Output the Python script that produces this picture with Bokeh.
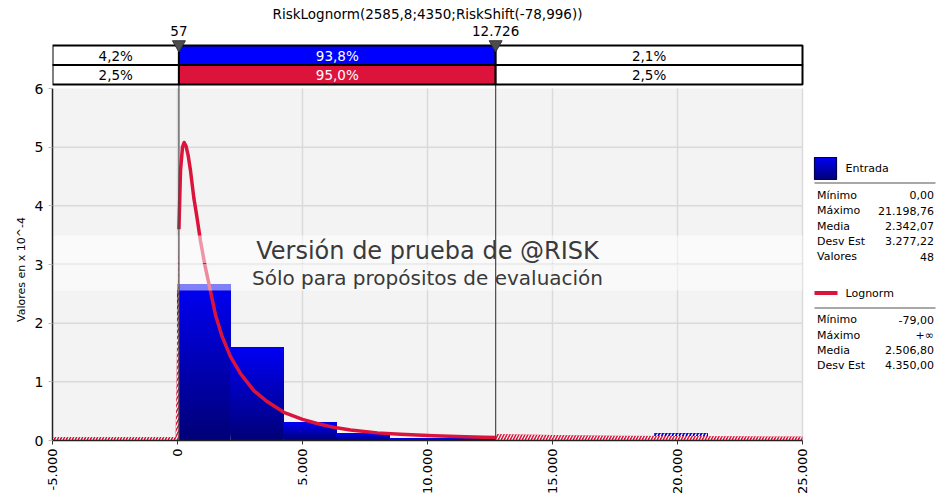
import math
import numpy as np
from bokeh.plotting import figure
from bokeh.models import Range1d, FixedTicker
from bokeh.core.properties import value
from bokeh.embed import file_html
from bokeh.resources import INLINE

FONT = "DejaVu Sans"

# ---------------- data ----------------
title_text = "RiskLognorm(2585,8;4350;RiskShift(-78,996))"
delim_values = [57, 12726]
delim_labels = ["57", "12.726"]
row1_pcts = ["4,2%", "93,8%", "2,1%"]
row2_pcts = ["2,5%", "95,0%", "2,5%"]

bin_left = [0, 2120, 4240, 6359, 8479, 10599, 12719, 14839, 16959, 19079]
bin_right = [2120, 4240, 6359, 8479, 10599, 12719, 14839, 16959, 19079, 21199]
bar_density = [2.66, 1.58, 0.31, 0.12, 0.03, 0.03, 0.03, 0.0, 0.0, 0.12]

curve_x = [-5000, -79, -40, 0, 57, 120, 200, 265, 340, 430, 520, 652, 780, 920,
           1100, 1253, 1520, 1787, 2120, 2520, 3053, 3600, 4253, 5000, 5587,
           6300, 6920, 8000, 8920, 10253, 11500, 12253, 12726, 15000, 17500,
           20000, 22500, 25000]
curve_y = [0.0, 0.0, 0.9, 2.3, 3.6, 4.6, 5.0, 5.08, 5.02, 4.85, 4.6, 4.14, 3.8,
           3.4, 2.98, 2.68, 2.14, 1.77, 1.43, 1.14, 0.85, 0.66, 0.48, 0.36,
           0.29, 0.22, 0.18, 0.13, 0.105, 0.08, 0.062, 0.055, 0.05, 0.032,
           0.022, 0.015, 0.011, 0.008]

x_ticks = [-5000, 0, 5000, 10000, 15000, 20000, 25000]
x_tick_labels = ["-5.000", "0", "5.000", "10.000", "15.000", "20.000", "25.000"]
y_ticks = [0, 1, 2, 3, 4, 5, 6]
y_label = "Valores en x 10^-4"

wm_line1 = "Versión de prueba de @RISK"
wm_line2 = "Sólo para propósitos de evaluación"

in_name = "Entrada"
in_stat_names = ["Mínimo", "Máximo", "Media", "Desv Est", "Valores"]
in_stat_vals = ["0,00", "21.198,76", "2.342,07", "3.277,22", "48"]
fit_name = "Lognorm"
fit_stat_names = ["Mínimo", "Máximo", "Media", "Desv Est"]
fit_stat_vals = ["-79,00", "+∞", "2.506,80", "4.350,00"]

# ---------------- layout (page pixels) ----------------
FIG_W, FIG_H = 941, 498
PL, PR, PT, PB = 52, 802, 88, 440
X_MIN, X_MAX, Y_MIN, Y_MAX = -5000, 25000, 0, 6
UX = (X_MAX - X_MIN) / (PR - PL)
UY = (Y_MAX - Y_MIN) / (PB - PT)


def X(px):
    return X_MIN + (px - PL) * UX


def Y(py):
    return Y_MIN + (PB - py) * UY


BLUE = "#0000ff"
RED = "#dc143c"


def grad(f):
    b = int(round(0x76 + (0xf4 - 0x76) * f))
    return "#0000%02x" % b


p = figure(width=FIG_W, height=FIG_H, output_backend="svg", toolbar_location=None,
           x_range=Range1d(X(PL), X(FIG_W)),
           y_range=Range1d(Y(PB), Y(0)),
           min_border_left=PL, min_border_right=0, min_border_top=0,
           min_border_bottom=FIG_H - PB)
p.outline_line_color = None
p.background_fill_color = "white"
p.border_fill_color = "white"
p.xgrid.grid_line_color = None
p.ygrid.grid_line_color = None

# axes
p.xaxis.ticker = FixedTicker(ticks=x_ticks)
p.xaxis.major_label_overrides = {t: l for t, l in zip(x_ticks, x_tick_labels)}
p.xaxis.major_label_orientation = math.pi / 2
p.xaxis.bounds = (X_MIN, X_MAX)
p.xaxis.minor_tick_line_color = None
p.xaxis.major_tick_in = 0
p.xaxis.major_tick_out = 4
p.xaxis.major_tick_line_color = "#333333"
p.xaxis.axis_line_color = "#222222"
p.xaxis.axis_line_width = 1.5
p.xaxis.major_label_standoff = 4
p.xaxis.major_label_text_font = FONT
p.xaxis.major_label_text_font_size = "13px"
p.xaxis.major_label_text_color = "black"

p.yaxis.ticker = FixedTicker(ticks=y_ticks)
p.yaxis.bounds = (Y_MIN, Y_MAX)
p.yaxis.minor_tick_line_color = None
p.yaxis.major_tick_in = 0
p.yaxis.major_tick_out = 4
p.yaxis.major_tick_line_color = "#bbbbbb"
p.yaxis.axis_line_color = "#222222"
p.yaxis.axis_line_width = 1.5
p.yaxis.major_label_standoff = 5
p.yaxis.major_label_text_font = FONT
p.yaxis.major_label_text_font_size = "14px"
p.yaxis.major_label_text_color = "black"
# the label is centred on the whole frame; trailing no-break spaces move the
# visible text down towards the centre of the 0..6 plot area
p.yaxis.axis_label = y_label + "\u00a0" * 28
p.yaxis.axis_label_text_font = FONT
p.yaxis.axis_label_text_font_size = "11px"
p.yaxis.axis_label_text_font_style = "normal"
p.yaxis.axis_label_text_color = "black"
p.yaxis.axis_label_standoff = 4

# plot background and grid
p.quad(left=[X_MIN], right=[X_MAX], bottom=[Y_MIN], top=[Y_MAX],
       fill_color="#f3f3f3", line_color=None)
gx = [t for t in x_ticks if t > X_MIN]
p.segment(x0=gx, y0=[Y_MIN] * len(gx), x1=gx, y1=[Y_MAX] * len(gx),
          line_color="#dadada", line_width=1.5)
gy = [t for t in y_ticks if Y_MIN < t < Y_MAX]
p.segment(x0=[X_MIN] * len(gy), y0=gy, x1=[X_MAX] * len(gy), y1=gy,
          line_color="#dadada", line_width=1.5)

# histogram bars with vertical gradient
N = 30
sl, sr, sb, st, sc = [], [], [], [], []
for l, r, h in zip(bin_left, bin_right, bar_density):
    if h <= 0:
        continue
    for k in range(N):
        sl.append(l); sr.append(r)
        sb.append(h * k / N); st.append(h)
        sc.append(grad((k + 0.5) / N))
p.quad(left=sl, right=sr, bottom=sb, top=st, fill_color=sc, line_color=None)
hl = [l for l, h in zip(bin_left, bar_density) if l >= delim_values[1] and h > 0]
hr = [r for l, r, h in zip(bin_left, bin_right, bar_density) if l >= delim_values[1] and h > 0]
hh = [h for l, h in zip(bin_left, bar_density) if l >= delim_values[1] and h > 0]
p.quad(left=hl, right=hr, bottom=[0] * len(hh), top=hh, fill_alpha=0,
       line_color=None, hatch_pattern="/", hatch_color="white",
       hatch_weight=1.5, hatch_scale=7)

# fitted curve
cx = np.array(curve_x, dtype=float)
cy = np.array(curve_y, dtype=float)
lo, hi = delim_values
band = 3.5 * UY
for m in (cx <= lo, cx >= hi):
    p.varea(x=cx[m], y1=np.zeros(m.sum()), y2=cy[m] + band, fill_color=RED,
            hatch_pattern="/", hatch_color="white", hatch_weight=1.2,
            hatch_scale=6)
m_in = (cx >= lo) & (cx <= hi)
p.line(cx[m_in], cy[m_in], line_color=RED, line_width=3.5, line_join="round")

# watermark
p.quad(left=[X_MIN, X_MIN], right=[X_MAX, X_MAX], bottom=[Y(262.5), Y(290)],
       top=[Y(235), Y(263.5)], fill_color="white", fill_alpha=[0.55, 0.5],
       line_color=None)
p.text(x=[(X_MIN + X_MAX) / 2] * 2, y=[Y(250.5), Y(277)], text=[wm_line1, wm_line2],
       text_font=value(FONT), text_font_size=["24px", "20px"], text_color="#3a3a3a",
       text_align="center", text_baseline="middle")

# delimiter lines
p.segment(x0=delim_values, y0=[Y_MIN] * 2, x1=delim_values, y1=[Y(45)] * 2,
          line_color="#4a4a4a", line_width=1.2)

# delimiter strip
cl = [X_MIN, lo, hi]
cr = [lo, hi, X_MAX]
cxm = [(a + b) / 2 for a, b in zip(cl, cr)]
p.quad(left=cl * 2, right=cr * 2,
       bottom=[Y(64.5)] * 3 + [Y(84)] * 3, top=[Y(45)] * 3 + [Y(64.5)] * 3,
       fill_color=["white", BLUE, "white", "white", RED, "white"],
       line_color="black", line_width=2)
p.text(x=cxm * 2, y=[Y(55)] * 3 + [Y(74.5)] * 3, text=row1_pcts + row2_pcts,
       text_color=["black", "white", "black"] * 2, text_font=value(FONT),
       text_font_size=value("13.5px"), text_align="center", text_baseline="middle")
p.scatter(delim_values, [Y(44)] * 2, marker="inverted_triangle", size=13,
          fill_color="#4d4d4d", line_color="#333333")
p.text(x=delim_values, y=[Y(30)] * 2, text=delim_labels, text_font=value(FONT),
       text_font_size=value("13.5px"), text_color="black", text_align="center",
       text_baseline="middle")

# title
p.text(x=[X(427)], y=[Y(13)], text=[title_text], text_font=value(FONT),
       text_font_size=value("13.5px"), text_color="black", text_align="center",
       text_baseline="middle")

# legend
LX0, LX1 = X(814), X(935)
for k in range(N):
    p.quad(left=[X(814)], right=[X(836)], bottom=[Y(179) + (Y(157) - Y(179)) * k / N],
           top=[Y(157)], fill_color=grad((k + 0.5) / N), line_color=None)
p.quad(left=[X(814)], right=[X(836)], bottom=[Y(179)], top=[Y(157)],
       fill_alpha=0, line_color="#000050", line_width=1.2)
p.segment(x0=[X(814)], y0=[Y(292.5)], x1=[X(837)], y1=[Y(292.5)],
          line_color=RED, line_width=4)
p.text(x=[X(845)] * 2, y=[Y(167.5), Y(292.5)], text=[in_name, fit_name],
       text_font=value(FONT), text_font_size=value("11px"), text_color="black",
       text_align="left", text_baseline="middle")
p.segment(x0=[LX0] * 2, y0=[Y(182.5), Y(307.5)], x1=[LX1] * 2,
          y1=[Y(182.5), Y(307.5)], line_color="#a8a8a8", line_width=2)
in_rows = [194.5, 210, 225.5, 240.5, 256]
fit_rows = [319, 334.5, 349.5, 364.5]
ys = [Y(v) for v in in_rows + fit_rows]
p.text(x=[X(816.5)] * len(ys), y=ys, text=in_stat_names + fit_stat_names,
       text_font=value(FONT), text_font_size=value("11px"), text_color="black",
       text_align="left", text_baseline="middle")
p.text(x=[X(933.5)] * len(ys), y=ys, text=in_stat_vals + fit_stat_vals,
       text_font=value(FONT), text_font_size=value("11px"), text_color="black",
       text_align="right", text_baseline="middle")

open("out.html", "w").write(file_html(p, INLINE))
